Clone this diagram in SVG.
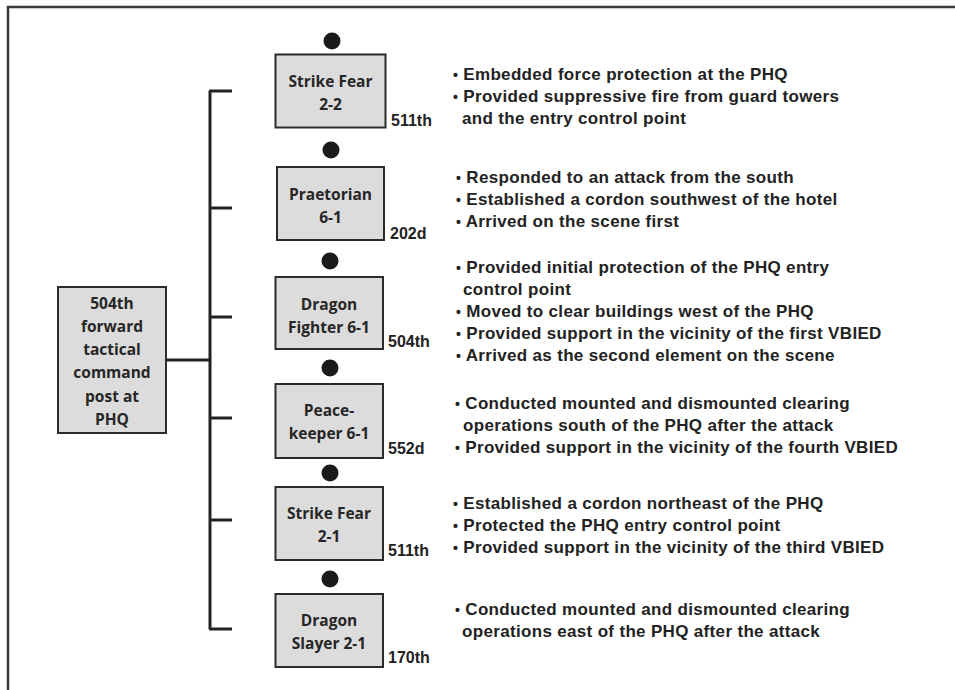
<svg xmlns="http://www.w3.org/2000/svg" width="955" height="690" viewBox="0 0 955 690">
<style>
.bg{fill:#ffffff}
.frame{stroke:#3a3a3a;stroke-width:2.5;fill:none}
.box{fill:#dcdcdc;stroke:#2b2b2b;stroke-width:2}
.btxt{font-family:"Open Sans","Noto Sans",sans-serif;font-weight:700;font-size:15.5px;fill:#262626;text-anchor:middle}
.lbl{font-family:"Liberation Sans",Arial,sans-serif;font-weight:bold;font-size:16px;fill:#222}
.desc{font-family:"Liberation Sans",Arial,sans-serif;font-weight:bold;font-size:17px;fill:#222;letter-spacing:0.33px}
.bul{font-size:14px}
.dot{fill:#1a1a1a}
.conn{stroke:#222;stroke-width:3;fill:none}
</style>
<rect class="bg" x="0" y="0" width="955" height="690"/>
<path class="frame" d="M8,690 V7 H955"/>

<g id="connectors">
<path class="conn" d="M210,91 V629"/>
<path class="conn" d="M209,91 H232 M210,208 H232 M210,317 H232 M210,418 H232 M210,520 H232 M209,629 H232"/>
<path class="conn" d="M166,360 H210"/>
</g>

<g id="cp">
<rect class="box" x="58" y="287" width="108" height="146"/>
<text class="btxt" x="112" y="309">504th</text>
<text class="btxt" x="112" y="332">forward</text>
<text class="btxt" x="112" y="355">tactical</text>
<text class="btxt" x="112" y="378">command</text>
<text class="btxt" x="112" y="402">post at</text>
<text class="btxt" x="112" y="425">PHQ</text>
</g>

<g id="sf22">
<circle class="dot" cx="332" cy="41" r="8.5"/>
<rect class="box" x="275.5" y="54.5" width="110" height="73"/>
<text class="btxt" x="330.5" y="87">Strike Fear</text>
<text class="btxt" x="330.5" y="110">2-2</text>
<text class="lbl" x="391" y="126">511th</text>
<text class="desc" x="453" y="80"><tspan class="bul">•</tspan> Embedded force protection at the PHQ</text>
<text class="desc" x="453" y="102"><tspan class="bul">•</tspan> Provided suppressive fire from guard towers</text>
<text class="desc" x="462" y="124">and the entry control point</text>
</g>

<g id="pr61">
<circle class="dot" cx="331" cy="150" r="8.5"/>
<rect class="box" x="277" y="167" width="107" height="73"/>
<text class="btxt" x="330.5" y="200">Praetorian</text>
<text class="btxt" x="330.5" y="223">6-1</text>
<text class="lbl" x="390" y="239">202d</text>
<text class="desc" x="456" y="183"><tspan class="bul">•</tspan> Responded to an attack from the south</text>
<text class="desc" x="456" y="205"><tspan class="bul">•</tspan> Established a cordon southwest of the hotel</text>
<text class="desc" x="456" y="227"><tspan class="bul">•</tspan> Arrived on the scene first</text>
</g>

<g id="df61">
<circle class="dot" cx="330" cy="261" r="8.5"/>
<rect class="box" x="275.5" y="277" width="107.5" height="72"/>
<text class="btxt" x="329" y="310">Dragon</text>
<text class="btxt" x="329" y="333">Fighter 6-1</text>
<text class="lbl" x="388" y="347">504th</text>
<text class="desc" x="456" y="273"><tspan class="bul">•</tspan> Provided initial protection of the PHQ entry</text>
<text class="desc" x="463" y="295">control point</text>
<text class="desc" x="456" y="317"><tspan class="bul">•</tspan> Moved to clear buildings west of the PHQ</text>
<text class="desc" x="456" y="339"><tspan class="bul">•</tspan> Provided support in the vicinity of the first VBIED</text>
<text class="desc" x="456" y="361"><tspan class="bul">•</tspan> Arrived as the second element on the scene</text>
</g>

<g id="pk61">
<circle class="dot" cx="330" cy="368" r="8.5"/>
<rect class="box" x="275.5" y="384" width="107.5" height="74"/>
<text class="btxt" x="329" y="416">Peace-</text>
<text class="btxt" x="329" y="439">keeper 6-1</text>
<text class="lbl" x="388" y="454">552d</text>
<text class="desc" x="455" y="409"><tspan class="bul">•</tspan> Conducted mounted and dismounted clearing</text>
<text class="desc" x="463" y="431">operations south of the PHQ after the attack</text>
<text class="desc" x="455" y="453"><tspan class="bul">•</tspan> Provided support in the vicinity of the fourth VBIED</text>
</g>

<g id="sf21">
<circle class="dot" cx="330" cy="473" r="8.5"/>
<rect class="box" x="275.5" y="487" width="107.5" height="73"/>
<text class="btxt" x="329" y="519">Strike Fear</text>
<text class="btxt" x="329" y="542">2-1</text>
<text class="lbl" x="388" y="556">511th</text>
<text class="desc" x="453" y="509"><tspan class="bul">•</tspan> Established a cordon northeast of the PHQ</text>
<text class="desc" x="453" y="531"><tspan class="bul">•</tspan> Protected the PHQ entry control point</text>
<text class="desc" x="453" y="553"><tspan class="bul">•</tspan> Provided support in the vicinity of the third VBIED</text>
</g>

<g id="ds21">
<circle class="dot" cx="330" cy="579" r="8.5"/>
<rect class="box" x="275.5" y="594" width="107.5" height="73"/>
<text class="btxt" x="329" y="626">Dragon</text>
<text class="btxt" x="329" y="649">Slayer 2-1</text>
<text class="lbl" x="388" y="663">170th</text>
<text class="desc" x="455" y="615"><tspan class="bul">•</tspan> Conducted mounted and dismounted clearing</text>
<text class="desc" x="462" y="637">operations east of the PHQ after the attack</text>
</g>
</svg>
